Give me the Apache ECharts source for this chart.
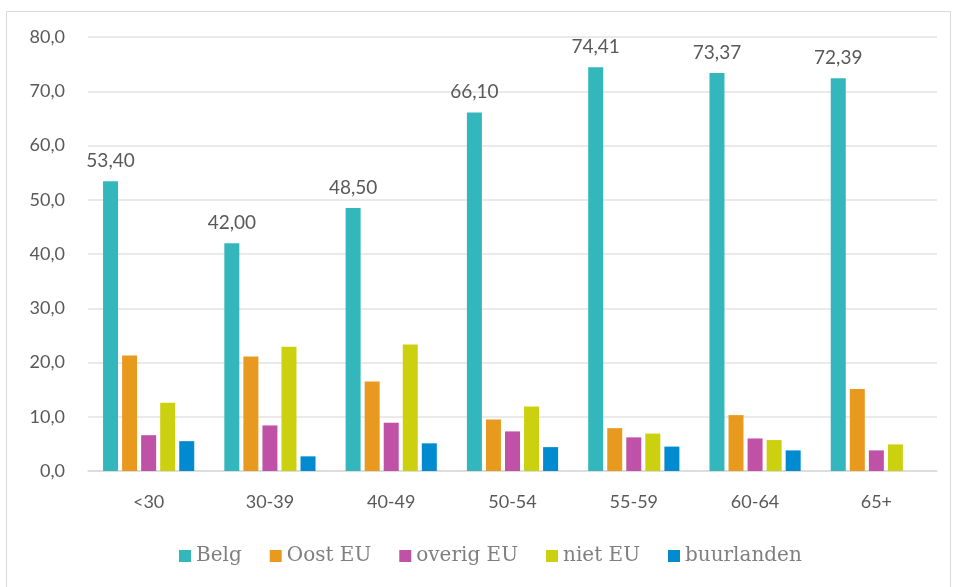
<!DOCTYPE html>
<html>
<head>
<meta charset="utf-8">
<script src="https://cdn.jsdelivr.net/npm/echarts@6/dist/echarts.min.js"></script>
<style>
  html, body { margin: 0; padding: 0; background: #fff; }
  #chart { width: 953px; height: 587px; }
</style>
</head>
<body>
<div id="chart"></div>
<script>
// leeftijdsgroepen
var categories = ["<30", "30-39", "40-49", "50-54", "55-59", "60-64", "65+"];

// waarden per herkomst
var belg = [53.40, 42.00, 48.50, 66.10, 74.41, 73.37, 72.39];
var oostEU = [21.3, 21.1, 16.5, 9.5, 7.9, 10.3, 15.1];
var overigEU = [6.6, 8.4, 8.9, 7.3, 6.2, 6.0, 3.8];
var nietEU = [12.6, 22.9, 23.3, 11.9, 6.9, 5.7, 4.9];
var buurlanden = [5.5, 2.7, 5.1, 4.4, 4.5, 3.8, null];

var yTicks = [0, 10, 20, 30, 40, 50, 60, 70, 80];

var myChart = echarts.init(document.getElementById("chart"));

function bar(name, data, color, withLabel) {
  return {
    name: name,
    type: "bar",
    data: data,
    barWidth: 15,
    barGap: "27%",
    itemStyle: { color: color },
    label: {
      show: withLabel,
      position: "top",
      distance: 11,
      color: "#595959",
      fontSize: 19,
      fontFamily: "Lato",
      formatter: function (p) { return p.value.toFixed(2).replace(".", ","); }
    }
  };
}

var option = {
  animation: false,
  backgroundColor: "#fff",
  graphic: [{
    type: "rect",
    left: 4, top: 9,
    shape: { width: 944, height: 600 },
    style: { fill: "none", stroke: "#d9d9d9", lineWidth: 1 }
  }],
  grid: { left: 88, right: 16, top: 37, bottom: 116 },
  legend: {
    bottom: 16,
    left: 174,
    itemWidth: 12,
    itemHeight: 12,
    itemGap: 28,
    icon: "rect",
    textStyle: { color: "#7f7f7f", fontSize: 20, fontFamily: "DejaVu Serif" },
    data: ["Belg", "Oost EU", "overig EU", "niet EU", "buurlanden"]
  },
  xAxis: {
    type: "category",
    data: categories,
    axisTick: { show: false },
    axisLine: { lineStyle: { color: "#d9d9d9", width: 1.5 } },
    axisLabel: { color: "#595959", fontSize: 18, fontFamily: "Lato", margin: 22 }
  },
  yAxis: {
    type: "value",
    min: yTicks[0],
    max: yTicks[yTicks.length - 1],
    interval: 10,
    axisLine: { show: false },
    axisTick: { show: false },
    splitLine: { lineStyle: { color: "#e3e3e3", width: 1.5 } },
    axisLabel: {
      color: "#595959", fontSize: 18, fontFamily: "Lato", margin: 23,
      formatter: function (v) { return v.toFixed(1).replace(".", ","); }
    }
  },
  series: [
    bar("Belg", belg, "#33b7bc", true),
    bar("Oost EU", oostEU, "#e89a1f", false),
    bar("overig EU", overigEU, "#bf52a6", false),
    bar("niet EU", nietEU, "#cbd10f", false),
    bar("buurlanden", buurlanden, "#008acf", false)
  ]
};

myChart.setOption(option);
</script>
</body>
</html>
